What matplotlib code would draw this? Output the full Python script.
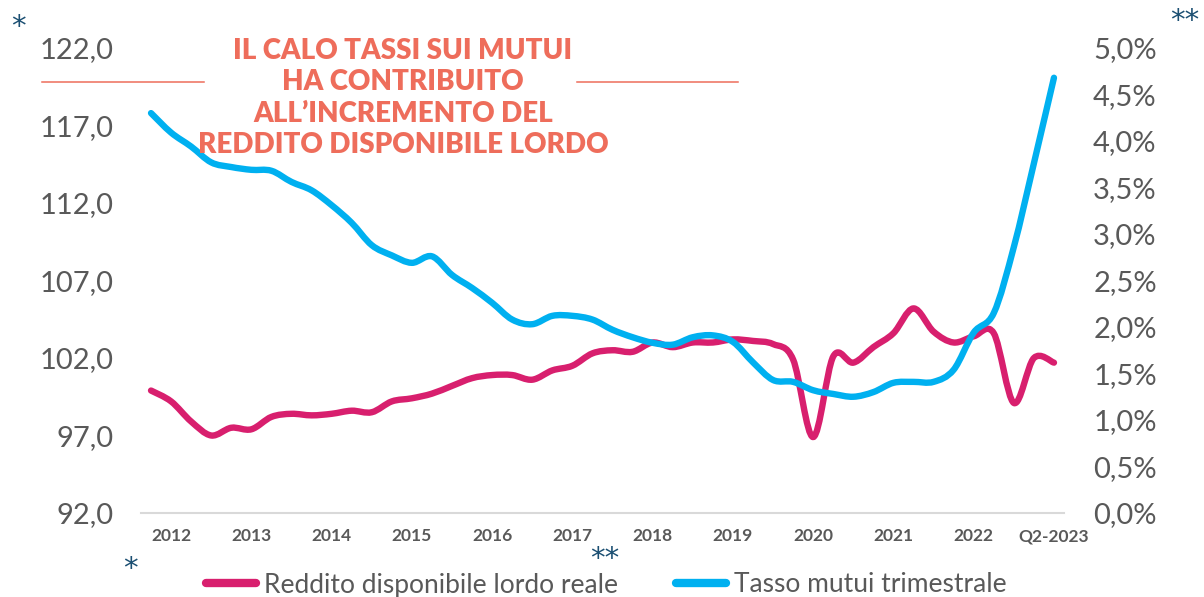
import numpy as np
import matplotlib
matplotlib.use("Agg")
import matplotlib.pyplot as plt
from matplotlib.lines import Line2D
from matplotlib.path import Path
from matplotlib.patches import PathPatch

plt.rcParams['font.family'] = ['Lato', 'DejaVu Sans']

# quarterly data, Q1-2012 .. Q2-2023
quarters = [f"Q{q}-{y}" for y in range(2012, 2024) for q in range(1, 5)][:46]

reddito = [99.9, 99.2, 97.9, 97.0, 97.5, 97.4, 98.2, 98.4, 98.3, 98.4,
           98.6, 98.5, 99.2, 99.4, 99.7, 100.2, 100.7, 100.9, 100.9, 100.6,
           101.2, 101.5, 102.3, 102.5, 102.4, 103.0, 102.7, 103.0, 103.0, 103.2,
           103.1, 102.9, 101.9, 96.9, 102.1, 101.7, 102.7, 103.6, 105.2, 103.7,
           103.0, 103.4, 103.6, 99.1, 102.0, 101.7]

tasso = [4.30, 4.09, 3.94, 3.77, 3.72, 3.69, 3.68, 3.56, 3.47, 3.31,
         3.12, 2.88, 2.77, 2.69, 2.76, 2.56, 2.42, 2.26, 2.08, 2.03,
         2.12, 2.12, 2.08, 1.97, 1.89, 1.83, 1.81, 1.89, 1.91, 1.84,
         1.62, 1.43, 1.41, 1.32, 1.28, 1.25, 1.30, 1.40, 1.41, 1.41,
         1.54, 1.94, 2.15, 2.86, 3.76, 4.68]

tick_idx = list(range(1, 46, 4))
tick_labels = [str(y) for y in range(2012, 2023)] + ["Q2-2023"]

left_ticks = [92, 97, 102, 107, 112, 117, 122]
right_ticks = [0, 0.5, 1, 1.5, 2, 2.5, 3, 3.5, 4, 4.5, 5]

MAGENTA = "#D81F6E"
CYAN = "#00B0F0"
SALMON = "#EE6D5B"
GREY = "#595959"
NAVY = "#1B4F72"


def smooth_path(xs, ys):
    # excel-style smoothed line: cubic bezier through every point
    pts = np.column_stack([xs, ys]).astype(float)
    verts = [pts[0]]
    codes = [Path.MOVETO]
    n = len(pts)
    for i in range(n - 1):
        p0 = pts[max(i - 1, 0)]
        p1, p2 = pts[i], pts[i + 1]
        p3 = pts[min(i + 2, n - 1)]
        verts += [p1 + (p2 - p0) / 6, p2 - (p3 - p1) / 6, p2]
        codes += [Path.CURVE4] * 3
    return Path(verts, codes)


fig = plt.figure(figsize=(12.04, 5.97), dpi=100)
ax = fig.add_axes([141 / 1204, 1 - 513 / 597, 923 / 1204, 465 / 597])
ax2 = ax.twinx()

x = np.arange(len(quarters))
ax.add_patch(PathPatch(smooth_path(x, reddito), fill=False, edgecolor=MAGENTA,
                       lw=4.6, joinstyle='round', capstyle='round', zorder=3))
ax2.add_patch(PathPatch(smooth_path(x, tasso), fill=False, edgecolor=CYAN,
                        lw=4.6, joinstyle='round', capstyle='round', zorder=3))

ax.set_xlim(-0.5, 45.5)
ax.set_ylim(92, 122)
ax2.set_ylim(0, 5)

ax.set_yticks(left_ticks)
ax.set_yticklabels([f"{v:.1f}".replace('.', ',') for v in left_ticks])
ax2.set_yticks(right_ticks)
ax2.set_yticklabels([f"{v:.1f}%".replace('.', ',') for v in right_ticks])
ax.set_xticks(tick_idx)
ax.set_xticklabels(tick_labels)

for a in (ax, ax2):
    for s in a.spines.values():
        s.set_visible(False)
    a.tick_params(length=0)
ax.spines['bottom'].set_visible(True)
ax.spines['bottom'].set_color("#D9D9D9")
ax.spines['bottom'].set_linewidth(1.5)

ax.tick_params(axis='y', labelsize=21, labelcolor=GREY, pad=20)
ax2.tick_params(axis='y', labelsize=21, labelcolor=GREY, pad=21)
ax.tick_params(axis='x', labelsize=12.5, labelcolor=GREY, pad=11)
for t in ax.get_xticklabels():
    t.set_fontweight('bold')

# headline
title = "IL CALO TASSI SUI MUTUI\nHA CONTRIBUITO\nALL\u2019INCREMENTO DEL\nREDDITO DISPONIBILE LORDO"
fig.text(403 / 1204, 1 - 98 / 597, title, ha='center', va='center',
         color=SALMON, fontsize=20, fontweight='heavy', linespacing=1.24)
fig.add_artist(Line2D([42 / 1204, 204 / 1204], [1 - 82 / 597] * 2,
                      color=SALMON, lw=1.1))
fig.add_artist(Line2D([577 / 1204, 738 / 1204], [1 - 82 / 597] * 2,
                      color=SALMON, lw=1.1))

# asterisks
star = dict(color=NAVY, fontsize=21, ha='center', va='center', family='DejaVu Sans')
fig.text(18 / 1204, 1 - 27 / 597, "*", **star)
fig.text(1185 / 1204, 1 - 21 / 597, "**", **star)
fig.text(130 / 1204, 1 - 569 / 597, "*", **star)
fig.text(605 / 1204, 1 - 559 / 597, "**", **star)

handles = [Line2D([], [], color=MAGENTA, lw=6, solid_capstyle='round'),
           Line2D([], [], color=CYAN, lw=6, solid_capstyle='round')]
leg = fig.legend(handles, ["Reddito disponibile lordo reale", "Tasso mutui trimestrale"],
                 loc='center', bbox_to_anchor=(606 / 1204, 1 - 585 / 597), ncol=2,
                 frameon=False, fontsize=19, handlelength=1.9, handletextpad=0.3,
                 columnspacing=2.2, borderpad=0, borderaxespad=0)
for t in leg.get_texts():
    t.set_color(GREY)

fig.savefig("out.png", dpi=100)
